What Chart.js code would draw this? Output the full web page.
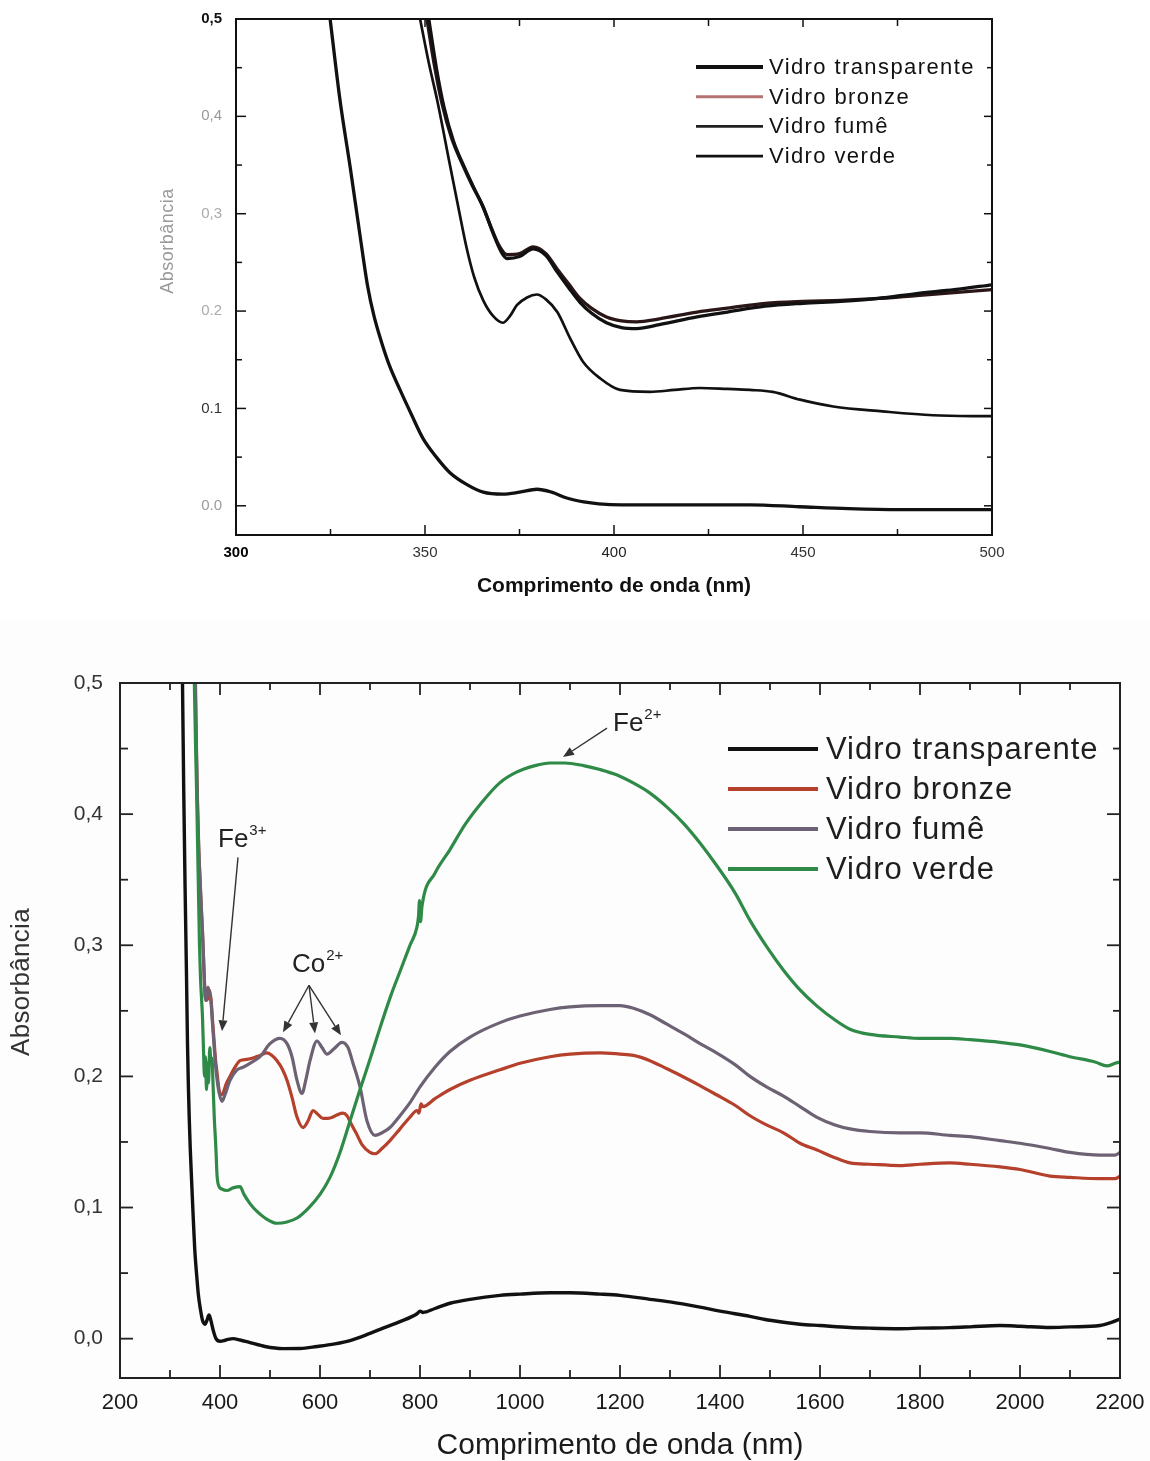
<!DOCTYPE html>
<html><head><meta charset="utf-8">
<script src="https://cdn.jsdelivr.net/npm/chart.js@4.4.1/dist/chart.umd.min.js"></script>
<style>
html,body{margin:0;padding:0;background:#fff;}
#wrap{position:relative;width:1150px;height:1461px;overflow:hidden;background:#fff;}
canvas{position:absolute;left:0;}
#c1{top:0;background:#fff;}
#c2{top:620px;background:#fdfdfd;}
</style></head>
<body><div id="wrap"><canvas id="c1" width="1150" height="620"></canvas><canvas id="c2" width="1150" height="841"></canvas></div>
<script>
// ---------------- DATA ----------------
const seriesNames = ['Vidro transparente','Vidro bronze','Vidro fumê','Vidro verde'];

// Top chart (300–500 nm) : [wavelength, absorbance]
const topTransp = [[324.9,0.5],[327.5,0.417],[330.2,0.348],[332.8,0.278],[334.8,0.226],[336.5,0.195],[338.5,0.168],[340.5,0.145],[343.4,0.119],[346.5,0.093],[349.5,0.069],[353,0.05],[356.6,0.034],[361,0.022],[365.4,0.014],[370.6,0.012],[375,0.014],[379.6,0.017],[383.5,0.014],[387.5,0.008],[392,0.004],[396,0.002],[402,0.001],[410,0.001],[422.8,0.001],[436,0.001],[449,-0.001],[462,-0.003],[475.7,-0.004],[488,-0.004],[500,-0.004]];
const topBronze = [[350.5,0.5],[352.5,0.452],[354.5,0.413],[357,0.378],[360,0.35],[362.5,0.329],[365,0.31],[367.5,0.286],[369.5,0.268],[371.7,0.258],[375,0.259],[378.6,0.266],[382,0.259],[385,0.243],[388,0.228],[391,0.213],[394,0.203],[398,0.194],[402,0.19],[406,0.189],[412,0.192],[422,0.199],[430,0.203],[440,0.208],[450,0.21],[460,0.211],[470,0.213],[480,0.216],[490,0.219],[500,0.222]];
const topFume = [[351,0.5],[353,0.45],[355,0.41],[357.5,0.375],[360.5,0.347],[363,0.326],[365.4,0.307],[368,0.28],[370,0.262],[371.7,0.254],[375,0.256],[378.6,0.264],[382,0.257],[385,0.24],[388,0.224],[391,0.209],[394,0.198],[398,0.188],[402,0.183],[406,0.182],[412,0.186],[422,0.194],[430,0.199],[440,0.205],[450,0.208],[460,0.21],[470,0.213],[480,0.218],[490,0.222],[500,0.227]];
const topVerde = [[348.7,0.5],[351,0.455],[353.2,0.417],[356.6,0.35],[359,0.303],[361,0.265],[363,0.235],[365.4,0.211],[368,0.195],[370.6,0.188],[372.5,0.195],[374.3,0.206],[377,0.214],[379.6,0.217],[382,0.212],[385,0.199],[388.4,0.172],[391.8,0.148],[396.3,0.131],[401.6,0.119],[409.5,0.117],[416,0.119],[422.7,0.121],[430,0.12],[436,0.119],[442,0.117],[449.2,0.109],[458,0.102],[471,0.097],[484.4,0.093],[500,0.092]];

const topXTicks = [300,350,400,450,500];
const topXLabels = ['300','350','400','450','500'];
const topYTicks = [0,0.1,0.2,0.3,0.4,0.5];
const topYLabels = ['0.0','0.1','0.2','0,3','0,4','0,5'];

// Bottom chart (200–2200 nm)
const botTransp = [[325,0.5],[327.5,0.417],[330,0.348],[333,0.277],[335,0.225],[336.8,0.192],[338.5,0.168],[340.5,0.145],[343.4,0.119],[346.5,0.092],[349.5,0.068],[353,0.05],[356.6,0.034],[361,0.022],[365,0.014],[370,0.011],[374,0.014],[378,0.018],[381,0.015],[386,0.007],[392,0.0],[400,-0.002],[412,-0.001],[426,0.0],[440,-0.001],[460,-0.003],[490,-0.006],[526,-0.0076],[560,-0.0075],[594,-0.006],[630,-0.004],[660,-0.0015],[700,0.004],[726,0.008],[760,0.013],[794,0.019],[800,0.021],[806,0.02],[830,0.023],[860,0.027],[900,0.03],[960,0.033],[1000,0.034],[1060,0.035],[1100,0.035],[1160,0.034],[1200,0.033],[1260,0.03],[1300,0.028],[1360,0.024],[1400,0.021],[1460,0.017],[1500,0.014],[1560,0.011],[1600,0.01],[1660,0.0085],[1700,0.008],[1760,0.0076],[1800,0.008],[1860,0.0084],[1900,0.009],[1960,0.01],[2000,0.0095],[2060,0.0085],[2100,0.009],[2160,0.01],[2180,0.012],[2200,0.015]];
const botBronze = [[350.5,0.5],[352.5,0.452],[354.5,0.413],[357,0.378],[360,0.35],[362.5,0.329],[365,0.31],[367.5,0.286],[369.5,0.268],[371.7,0.258],[375,0.259],[378.6,0.266],[382,0.259],[385,0.243],[388,0.228],[391,0.213],[394,0.203],[398,0.19],[402,0.186],[406,0.187],[412,0.194],[420,0.2],[430,0.207],[440,0.212],[454,0.213],[466,0.214],[480,0.216],[494,0.218],[504,0.216],[514,0.212],[524,0.206],[534,0.197],[544,0.184],[554,0.169],[566,0.161],[576,0.166],[586,0.174],[596,0.171],[606,0.168],[616,0.168],[626,0.169],[636,0.171],[646,0.172],[654,0.17],[662,0.164],[672,0.157],[684,0.148],[700,0.142],[710,0.141],[724,0.145],[740,0.151],[760,0.16],[780,0.169],[794,0.174],[798,0.172],[802,0.179],[806,0.177],[830,0.183],[860,0.19],[900,0.197],[960,0.205],[1000,0.21],[1060,0.215],[1100,0.217],[1160,0.218],[1200,0.217],[1227,0.216],[1260,0.212],[1293,0.206],[1330,0.199],[1360,0.193],[1393,0.186],[1430,0.178],[1460,0.17],[1493,0.163],[1527,0.157],[1560,0.149],[1593,0.144],[1630,0.138],[1660,0.134],[1700,0.133],[1760,0.132],[1800,0.133],[1860,0.134],[1900,0.133],[1960,0.131],[2000,0.129],[2060,0.124],[2100,0.123],[2160,0.122],[2190,0.122],[2200,0.124]];
const botFume = [[351,0.5],[353,0.45],[355,0.41],[357.5,0.375],[360.5,0.347],[363,0.326],[365.4,0.307],[368,0.28],[370,0.262],[372,0.258],[374,0.264],[376,0.268],[378.6,0.264],[382,0.257],[385,0.24],[388,0.224],[391,0.209],[394,0.198],[398,0.188],[404,0.181],[410,0.186],[420,0.197],[434,0.205],[446,0.207],[460,0.21],[480,0.215],[500,0.225],[520,0.229],[534,0.225],[544,0.215],[554,0.197],[564,0.187],[572,0.198],[580,0.212],[594,0.227],[604,0.222],[614,0.217],[628,0.221],[644,0.226],[656,0.222],[666,0.21],[680,0.192],[694,0.166],[710,0.155],[724,0.157],[740,0.161],[760,0.17],[780,0.18],[800,0.192],[830,0.207],[860,0.219],[900,0.23],[960,0.241],[1000,0.246],[1060,0.251],[1100,0.253],[1160,0.254],[1200,0.254],[1227,0.252],[1260,0.247],[1293,0.24],[1330,0.232],[1360,0.225],[1393,0.218],[1430,0.209],[1460,0.2],[1493,0.192],[1527,0.185],[1560,0.177],[1593,0.169],[1630,0.163],[1660,0.16],[1700,0.158],[1760,0.157],[1800,0.157],[1860,0.155],[1900,0.154],[1960,0.151],[2000,0.149],[2060,0.145],[2100,0.142],[2160,0.14],[2190,0.14],[2200,0.142]];
const botVerde = [[348.7,0.5],[351,0.455],[353.2,0.417],[356.6,0.348],[359,0.3],[361,0.275],[363,0.26],[365,0.245],[367,0.22],[369,0.2],[371,0.215],[373,0.19],[375,0.21],[377,0.195],[379.6,0.222],[382,0.21],[384,0.214],[386,0.195],[388.4,0.17],[391.8,0.145],[394,0.125],[397,0.117],[404,0.114],[414,0.113],[426,0.115],[440,0.116],[448,0.11],[460,0.103],[474,0.097],[490,0.092],[514,0.088],[534,0.089],[554,0.092],[578,0.1],[600,0.11],[620,0.123],[640,0.142],[660,0.166],[680,0.19],[700,0.213],[720,0.237],[742,0.262],[760,0.28],[780,0.3],[794,0.314],[797,0.322],[799,0.334],[801,0.318],[804,0.33],[830,0.355],[860,0.373],[890,0.392],[926,0.41],[960,0.424],[993,0.432],[1030,0.437],[1060,0.439],[1090,0.439],[1127,0.437],[1160,0.434],[1193,0.43],[1230,0.423],[1260,0.416],[1295,0.405],[1327,0.393],[1360,0.378],[1393,0.361],[1430,0.34],[1460,0.319],[1495,0.298],[1527,0.281],[1560,0.266],[1593,0.254],[1630,0.243],[1660,0.236],[1700,0.232],[1760,0.23],[1800,0.229],[1860,0.229],[1900,0.228],[1960,0.226],[2000,0.224],[2060,0.219],[2100,0.215],[2150,0.211],[2174,0.208],[2190,0.21],[2200,0.211]];

const botXTicks = [200,400,600,800,1000,1200,1400,1600,1800,2000,2200];
const botXLabels = ['200','400','600','800','1000','1200','1400','1600','1800','2000','2200'];
const botYTicks = [0,0.1,0.2,0.3,0.4,0.5];
const botYLabels = ['0,0','0,1','0,2','0,3','0,4','0,5'];

// Annotations (data coordinates): label, superscript, x (nm), baseline y (abs)
const annLabels = ['Fe','Co','Fe'];
const annSups = ['3+','2+','2+'];
const annX = [396, 544, 1186];
const annY = [0.3748, 0.2794, 0.4634];
// Arrows: from -> to (data coordinates)
const arrFromX = [436, 578, 578, 578, 1174];
const arrFromY = [0.367, 0.2695, 0.2695, 0.2695, 0.4656];
const arrToX = [404, 526, 590, 642, 1086];
const arrToY = [0.2344, 0.2336, 0.2328, 0.2313, 0.4435];

// ---------------- HELPERS ----------------
const FONT = '"Liberation Sans", Arial, Helvetica, sans-serif';
Chart.defaults.font.family = FONT;

function series(label, pts, color, width, order){
  return {label, data: pts.map(p => ({x: p[0], y: p[1]})), borderColor: color, backgroundColor: color,
    borderWidth: width, showLine: true, pointRadius: 0, pointHoverRadius: 0, fill: false,
    cubicInterpolationMode: 'monotone', borderJoinStyle: 'round', borderCapStyle: 'round', order};
}
function mids(arr){ const r=[]; for(let i=0;i<arr.length-1;i++) r.push((arr[i]+arr[i+1])/2); return r; }

function framePlugin(c){
  return {id:'frameTicks', afterDatasetsDraw(chart){
    const {ctx, chartArea:a, scales:{x,y}} = chart;
    ctx.save();
    ctx.strokeStyle = c.color; ctx.lineCap = 'butt';
    const seg=(x1,y1,x2,y2)=>{ctx.beginPath();ctx.moveTo(x1,y1);ctx.lineTo(x2,y2);ctx.stroke();};
    ctx.lineWidth = c.tickWidth;
    c.xMajor.forEach(v=>{const p=x.getPixelForValue(v); seg(p,a.bottom,p,a.bottom-c.major); seg(p,a.top,p,a.top+c.topMajor);});
    mids(c.xMajor).forEach(v=>{const p=x.getPixelForValue(v); seg(p,a.bottom,p,a.bottom-c.minor); seg(p,a.top,p,a.top+c.topMinor);});
    c.yMajor.forEach(v=>{const p=y.getPixelForValue(v); seg(a.left,p,a.left+c.major,p); seg(a.right,p,a.right-c.rMajor,p);});
    mids(c.yMajor).forEach(v=>{const p=y.getPixelForValue(v); seg(a.left,p,a.left+c.minor,p); seg(a.right,p,a.right-c.rMinor,p);});
    ctx.lineWidth = c.frameWidth;
    ctx.strokeRect(a.left, a.top, a.right-a.left, a.bottom-a.top);
    ctx.restore();
  }};
}
function legendPlugin(c){
  return {id:'inLegend', afterDraw(chart){
    const {ctx, chartArea:a} = chart;
    ctx.save();
    ctx.font = c.font; ctx.textBaseline = 'middle'; ctx.textAlign = 'left';
    seriesNames.forEach((lab,i)=>{
      const yy = a.top + c.top + i*c.gap;
      const x0 = a.right - c.right;
      ctx.strokeStyle = c.colors[i]; ctx.lineWidth = c.widths[i]; ctx.lineCap='butt';
      ctx.beginPath(); ctx.moveTo(x0, yy); ctx.lineTo(x0+c.len, yy); ctx.stroke();
      ctx.fillStyle = c.textColor;
      if ('letterSpacing' in ctx) ctx.letterSpacing = c.spacing + 'px';
      ctx.fillText(lab, x0 + c.len + c.textGap, yy + c.textDy);
      if ('letterSpacing' in ctx) ctx.letterSpacing = '0px';
    });
    ctx.restore();
  }};
}
function yTitlePlugin(c){
  return {id:'yTitle', afterDraw(chart){
    const {ctx, chartArea:a, scales:{y}} = chart;
    ctx.save();
    ctx.translate(a.left - c.dx, y.getPixelForValue(c.value));
    ctx.rotate(-Math.PI/2);
    ctx.font = c.font; ctx.fillStyle = c.color; ctx.textAlign='center'; ctx.textBaseline='middle';
    if ('letterSpacing' in ctx) ctx.letterSpacing = c.spacing + 'px';
    ctx.fillText(c.text, 0, 0);
    ctx.restore();
  }};
}
const annotPlugin = {id:'annot', afterDraw(chart){
  const {ctx, scales:{x,y}} = chart;
  ctx.save();
  ctx.strokeStyle = '#333'; ctx.fillStyle = '#333'; ctx.lineWidth = 1.4;
  for (let i=0;i<arrFromX.length;i++){
    const x1=x.getPixelForValue(arrFromX[i]), y1=y.getPixelForValue(arrFromY[i]);
    const x2=x.getPixelForValue(arrToX[i]), y2=y.getPixelForValue(arrToY[i]);
    const ang=Math.atan2(y2-y1,x2-x1), L=11, W=4.5;
    const bx=x2-L*Math.cos(ang), by=y2-L*Math.sin(ang);
    ctx.beginPath(); ctx.moveTo(x1,y1); ctx.lineTo(bx,by); ctx.stroke();
    ctx.beginPath(); ctx.moveTo(x2,y2);
    ctx.lineTo(bx+W*Math.sin(ang), by-W*Math.cos(ang));
    ctx.lineTo(bx-W*Math.sin(ang), by+W*Math.cos(ang));
    ctx.closePath(); ctx.fill();
  }
  ctx.fillStyle = '#222'; ctx.textBaseline = 'alphabetic'; ctx.textAlign = 'left';
  for (let i=0;i<annLabels.length;i++){
    const px=x.getPixelForValue(annX[i]), py=y.getPixelForValue(annY[i]);
    ctx.font = '26px ' + FONT;
    ctx.fillText(annLabels[i], px, py);
    const w = ctx.measureText(annLabels[i]).width;
    ctx.font = '15px ' + FONT;
    ctx.fillText(annSups[i], px + w + 1, py - 12);
  }
  ctx.restore();
}};

// ---------------- TOP CHART ----------------
const topYColors = ['#9a9a9a','#333','#aaa','#aaa','#999','#111'];
const topXColors = ['#000','#333','#222','#333','#333'];
new Chart(document.getElementById('c1'), {
  type: 'scatter',
  data: {datasets: [
    series(seriesNames[0], topTransp, '#111', 3.3, 4),
    series(seriesNames[1], topBronze, '#2a1616', 3.3, 3),
    series(seriesNames[2], topFume, '#111', 3.3, 2),
    series(seriesNames[3], topVerde, '#111', 2.7, 1)
  ]},
  options: {
    responsive:false, animation:false, events:[],
    layout:{padding:{left:0, right:158, top:19, bottom:0}},
    plugins:{legend:{display:false}, tooltip:{enabled:false}},
    scales:{
      x:{type:'linear', min:300, max:500,
        afterBuildTicks: s => { s.ticks = topXTicks.map(v => ({value:v})); },
        afterFit: s => { s.height = 85; s.paddingLeft = 0; s.paddingRight = 0; },
        grid:{display:false, drawTicks:false}, border:{display:false},
        ticks:{padding:9, autoSkip:false, maxRotation:0, minRotation:0,
          font: c => ({family:FONT, size:15, weight: c.index===0 ? 'bold' : 'normal'}),
          color: c => topXColors[c.index] || '#333',
          callback: (v,i) => topXLabels[i]},
        title:{display:true, text:'Comprimento de onda (nm)', color:'#111',
          font:{family:FONT, size:21, weight:'bold', lineHeight:1.2}, padding:{top:0, bottom:21}}
      },
      y:{type:'linear', min:-0.03, max:0.5,
        afterBuildTicks: s => { s.ticks = topYTicks.map(v => ({value:v})); },
        afterFit: s => { s.width = 236; s.paddingTop = 0; s.paddingBottom = 0; },
        grid:{display:false, drawTicks:false}, border:{display:false},
        ticks:{padding:14, autoSkip:false,
          font: c => ({family:FONT, size:15, weight: c.index===5 ? 'bold' : 'normal'}),
          color: c => topYColors[c.index] || '#999',
          callback: (v,i) => topYLabels[i]}
      }
    }
  },
  plugins:[
    framePlugin({color:'#111', tickWidth:1.5, frameWidth:2, xMajor:topXTicks, yMajor:topYTicks, major:10, minor:6, topMajor:8, topMinor:7, rMajor:8, rMinor:5}),
    legendPlugin({font:'22px '+FONT, spacing:1.4, top:48, gap:29.7, right:296, len:67, textGap:6, textDy:1,
      colors:['#111','#b57272','#222','#111'], widths:[4,3,2.6,2.6], textColor:'#111'}),
    yTitlePlugin({text:'Absorbância', font:'18px '+FONT, color:'#9a9a9a', spacing:0.5, dx:68, value:0.272})
  ]
});

// ---------------- BOTTOM CHART ----------------
new Chart(document.getElementById('c2'), {
  type: 'scatter',
  data: {datasets: [
    series(seriesNames[0], botTransp, '#111111', 3.4, 4),
    series(seriesNames[1], botBronze, '#b5402b', 3.2, 3),
    series(seriesNames[2], botFume, '#6d6274', 3.2, 2),
    series(seriesNames[3], botVerde, '#2f8a47', 3.2, 1)
  ]},
  options: {
    responsive:false, animation:false, events:[],
    layout:{padding:{left:0, right:30, top:63, bottom:0}},
    plugins:{legend:{display:false}, tooltip:{enabled:false}},
    scales:{
      x:{type:'linear', min:200, max:2200,
        afterBuildTicks: s => { s.ticks = botXTicks.map(v => ({value:v})); },
        afterFit: s => { s.height = 83; s.paddingLeft = 0; s.paddingRight = 0; },
        grid:{display:false, drawTicks:false}, border:{display:false},
        ticks:{padding:12, autoSkip:false, maxRotation:0, minRotation:0,
          font:{family:FONT, size:22}, color:'#1a1a1a',
          callback: (v,i) => botXLabels[i]},
        title:{display:true, text:'Comprimento de onda (nm)', color:'#1a1a1a',
          font:{family:FONT, size:30, lineHeight:1}, padding:{top:0, bottom:0.5}}
      },
      y:{type:'linear', min:-0.03, max:0.5,
        afterBuildTicks: s => { s.ticks = botYTicks.map(v => ({value:v})); },
        afterFit: s => { s.width = 120; s.paddingTop = 0; s.paddingBottom = 0; },
        grid:{display:false, drawTicks:false}, border:{display:false},
        ticks:{padding:17, autoSkip:false, font:{family:FONT, size:21}, color:'#333',
          callback: (v,i) => botYLabels[i]}
      }
    }
  },
  plugins:[
    framePlugin({color:'#222', tickWidth:1.8, frameWidth:2, xMajor:botXTicks, yMajor:botYTicks, major:13, minor:8, topMajor:12, topMinor:7, rMajor:13, rMinor:7}),
    legendPlugin({font:'31px '+FONT, spacing:1.0, top:66, gap:40, right:392, len:90, textGap:8, textDy:1,
      colors:['#111111','#b5402b','#6d6274','#2f8a47'], widths:[4,4,4,4], textColor:'#1e1e1e'}),
    yTitlePlugin({text:'Absorbância', font:'26px '+FONT, color:'#333', spacing:0.3, dx:98, value:0.272}),
    annotPlugin
  ]
});
</script></body></html>
